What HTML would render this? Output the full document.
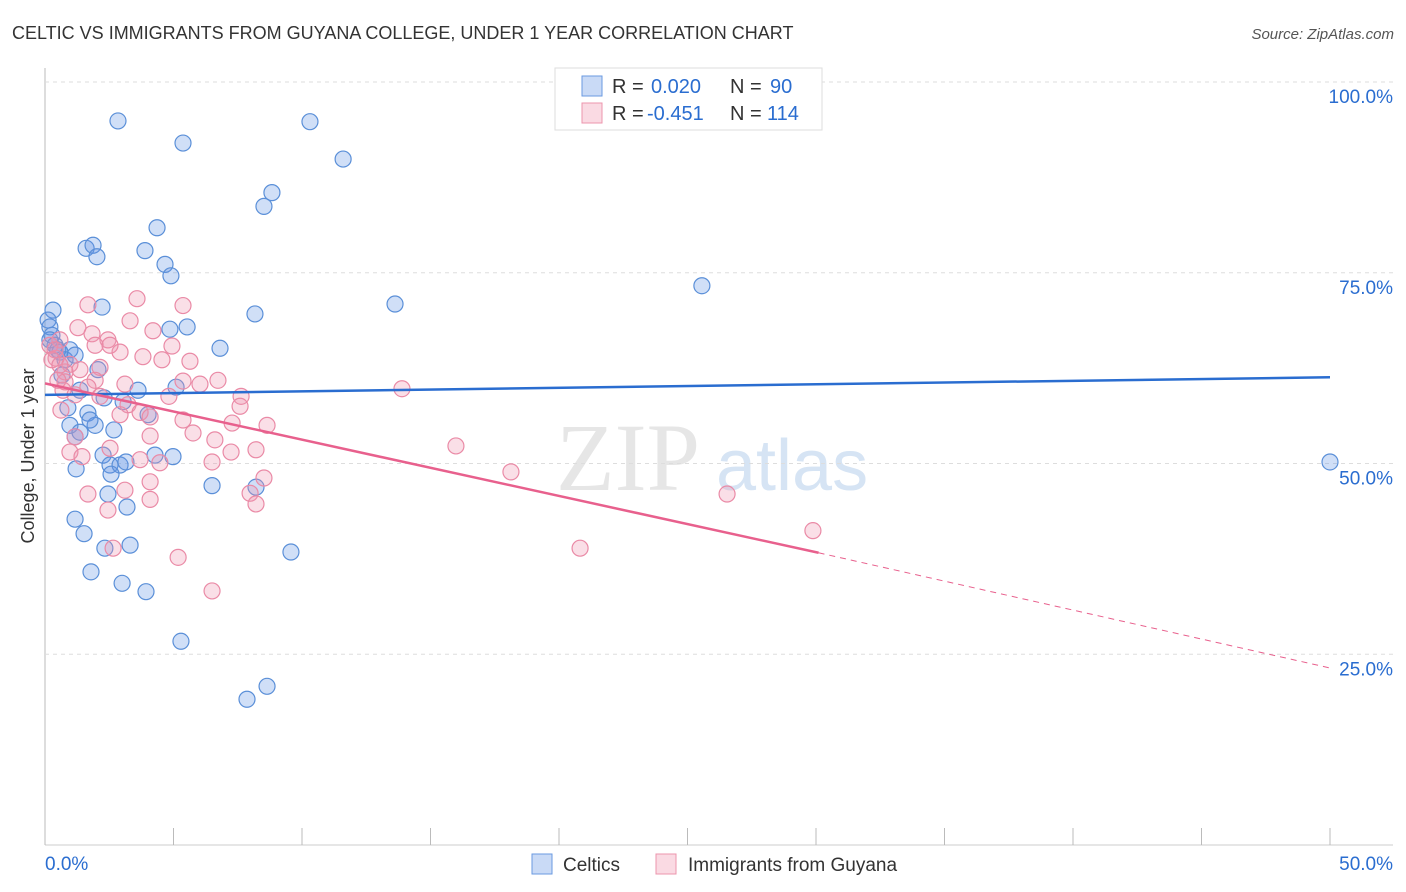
<!DOCTYPE html>
<html><head><meta charset="utf-8"><style>
body{margin:0;background:#fff;font-family:"Liberation Sans",sans-serif;}
#wrap{position:relative;width:1406px;height:892px;overflow:hidden;}
</style></head><body>
<div id="wrap">
<svg id="svg" width="1406" height="892" xmlns="http://www.w3.org/2000/svg">
<text x="12" y="39" font-size="18" fill="#333">CELTIC VS IMMIGRANTS FROM GUYANA COLLEGE, UNDER 1 YEAR CORRELATION CHART</text>
<text x="1394" y="39" font-size="15" fill="#555" font-style="italic" text-anchor="end">Source: ZipAtlas.com</text>
<text x="556" y="490" font-size="96" fill="#e6e6e6" font-family="Liberation Serif,serif">ZIP</text>
<text x="716" y="490" font-size="72" fill="#d6e4f4">atlas</text>
<text transform="translate(34,456) rotate(-90)" font-size="18" fill="#333" text-anchor="middle">College, Under 1 year</text>
<g id="grid"></g><g id="pts"></g><g id="lines"></g>
<g>
<rect x="555" y="68" width="267" height="62" fill="#fff" stroke="#ddd"/>
<rect x="582" y="76" width="20" height="20" fill="rgba(100,150,230,0.35)" stroke="#6a9ae0"/>
<rect x="582" y="103" width="20" height="20" fill="rgba(240,150,175,0.35)" stroke="#ec95ad"/>
<text x="612" y="93" font-size="20" fill="#333">R = </text>
<text x="651" y="93" font-size="20" fill="#2a6dd0">0.020</text>
<text x="730" y="93" font-size="20" fill="#333">N = </text>
<text x="770" y="93" font-size="20" fill="#2a6dd0">90</text>
<text x="612" y="120" font-size="20" fill="#333">R = </text>
<text x="647" y="120" font-size="20" fill="#2a6dd0">-0.451</text>
<text x="730" y="120" font-size="20" fill="#333">N = </text>
<text x="767" y="120" font-size="20" fill="#2a6dd0">114</text>
</g>
<g>
<rect x="532" y="854" width="20" height="20" fill="rgba(100,150,230,0.35)" stroke="#6a9ae0"/>
<text x="563" y="871" font-size="19" fill="#333">Celtics</text>
<rect x="656" y="854" width="20" height="20" fill="rgba(240,150,175,0.35)" stroke="#ec95ad"/>
<text x="688" y="871" font-size="19" fill="#333">Immigrants from Guyana</text>
</g>
</svg></div>
<script>
const yTicks=[100,75,50,25];
const yTickLabels=["100.0%","75.0%","50.0%","25.0%"];
const xTickLabels=["0.0%","50.0%"];
const blueX=[2.84,5.37,10.31,11.6,8.83,8.52,4.36,1.60,1.87,2.02,3.89,4.67,4.90,25.56,13.62,0.31,2.22,8.17,0.12,0.19,4.86,5.53,0.27,0.39,6.81,0.58,0.97,0.78,1.17,2.06,0.66,3.62,1.36,5.10,2.30,3.04,0.89,1.67,4.01,0.97,1.95,1.36,2.68,1.17,4.28,2.26,4.98,2.53,2.92,1.21,3.15,2.57,6.50,8.21,2.45,3.19,1.17,1.52,3.31,2.33,9.57,1.79,3.00,3.93,5.29,8.64,7.86,50,0.19,0.5,1.75];
const blueY=[94.9,92.0,94.8,89.9,85.5,83.7,80.9,78.2,78.6,77.1,77.9,76.1,74.6,73.3,70.9,70.1,70.5,69.6,68.8,67.9,67.6,67.9,66.8,65.5,65.1,64.6,64.9,63.6,64.2,62.3,61.6,59.6,59.6,60.0,58.6,58.1,57.3,56.6,56.4,55.0,55.0,54.1,54.4,53.5,51.1,51.1,50.9,49.8,49.8,49.3,50.2,48.6,47.1,46.9,46.0,44.3,42.7,40.8,39.3,38.9,38.4,35.8,34.3,33.2,26.7,20.8,19.1,50.2,66.2,64.9,55.7];
const pinkX=[3.58,1.67,5.37,1.28,1.83,3.31,4.20,2.45,0.58,4.94,2.92,3.81,4.55,5.64,0.43,0.97,2.14,0.78,5.37,6.73,6.03,1.95,1.67,3.11,13.89,0.70,1.17,4.82,7.63,3.23,0.62,3.70,2.92,4.09,5.37,7.28,8.64,7.59,1.17,4.09,5.76,6.61,2.53,8.21,7.24,15.99,0.97,1.44,3.70,4.47,6.50,18.13,4.09,8.52,1.67,3.11,7.98,26.54,4.09,8.21,2.45,29.88,2.65,20.82,5.18,6.50,0.19,0.39,0.27,0.58,1.36,1.95,2.53,0.78,2.14,0.5];
const pinkY=[71.6,70.8,70.7,67.8,67.0,68.7,67.4,66.2,66.2,65.4,64.6,64.0,63.6,63.4,63.8,63.0,62.6,62.0,60.8,60.9,60.4,60.9,60.0,60.4,59.8,59.6,59.0,58.8,58.8,57.7,57.0,56.7,56.4,56.1,55.7,55.3,55.0,57.5,53.5,53.6,54.0,53.1,52.0,51.8,51.5,52.3,51.5,50.9,50.5,50.1,50.2,48.9,47.6,48.1,46.0,46.5,46.1,46.0,45.3,44.7,43.9,41.2,38.9,38.9,37.7,33.3,65.5,64.9,63.6,62.9,62.3,65.5,65.5,60.7,58.8,60.9];
const blueTrend=[[0,59.0],[50,61.3]];
const pinkTrend=[[0,60.5],[30.1,38.3]];
const pinkDash=[[30.1,38.3],[50,23.2]];
const X=v=>45+v/50*1285, Y=v=>845-v/100*763;
const NS="http://www.w3.org/2000/svg";
function mk(t,a,p){const e=document.createElementNS(NS,t);for(const k in a)e.setAttribute(k,a[k]);p.appendChild(e);return e;}
const grid=document.getElementById('grid');
let ax=mk('line',{x1:45,y1:68,x2:45,y2:845,stroke:'#bbb'},grid);


let bx=mk('line',{x1:45,y1:845,x2:1393,y2:845,stroke:'#ccc'},grid);


yTicks.forEach((v,i)=>{
 let l=mk('line',{x1:45,y1:Y(v),x2:1393,y2:Y(v),stroke:'#ddd','stroke-dasharray':'4,4'},grid);
 
 
 let t=mk('text',{x:1393,y:Y(v)+21,'font-size':19,fill:'#2a6dd0','text-anchor':'end'},grid);t.textContent=yTickLabels[i];
 
 
});
for(let i=0;i<=10;i++){let l=mk('line',{x1:X(i*5),y1:828,x2:X(i*5),y2:845,stroke:'#bbb'},grid);
 
 }
[[0,45,'start'],[50,1393,'end']].forEach((d,i)=>{let t=mk('text',{x:d[1],y:870,'font-size':19,fill:'#2a6dd0','text-anchor':d[2]},grid);t.textContent=xTickLabels[i];
 
 });
const pts=document.getElementById('pts');
blueX.forEach((x,i)=>{let c=mk('circle',{cx:X(x),cy:Y(blueY[i]),r:8,fill:'rgba(100,150,230,0.3)',stroke:'#5a8fd8','stroke-width':1.2},pts);
 
 });
pinkX.forEach((x,i)=>{let c=mk('circle',{cx:X(x),cy:Y(pinkY[i]),r:8,fill:'rgba(240,150,175,0.3)',stroke:'#ea8aa6','stroke-width':1.2},pts);
 
 });
const lines=document.getElementById('lines');
let b=mk('line',{x1:X(blueTrend[0][0]),y1:Y(blueTrend[0][1]),x2:X(blueTrend[1][0]),y2:Y(blueTrend[1][1]),stroke:'#2a6dd0','stroke-width':2.5},lines);


let p=mk('line',{x1:X(pinkTrend[0][0]),y1:Y(pinkTrend[0][1]),x2:X(pinkTrend[1][0]),y2:Y(pinkTrend[1][1]),stroke:'#e8608d','stroke-width':2.5},lines);


let pd=mk('line',{x1:X(pinkDash[0][0]),y1:Y(pinkDash[0][1]),x2:X(pinkDash[1][0]),y2:Y(pinkDash[1][1]),stroke:'#e8608d','stroke-width':1,'stroke-dasharray':'6,5'},lines);


</script>
</body></html>
